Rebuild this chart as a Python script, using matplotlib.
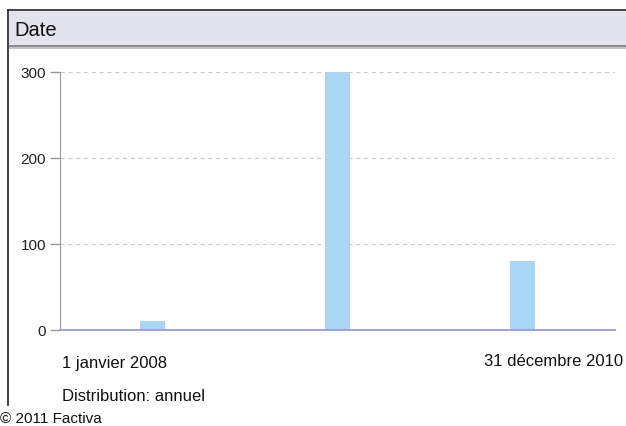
import matplotlib.pyplot as plt
from matplotlib.patches import Rectangle
from matplotlib.lines import Line2D

plt.rcParams['font.family'] = ['Liberation Sans', 'DejaVu Sans']

# data
years = ['2008', '2009', '2010']
counts = [10, 300, 80]
yticks = [0, 100, 200, 300]

W, H = 626, 427
fig = plt.figure(figsize=(W / 100, H / 100), dpi=100)

def fx(px):
    return px / W

def fy(py):
    return 1 - py / H

# frame: left border and header band
fig.add_artist(Line2D([fx(8), fx(8)], [fy(11), fy(413)], color='#222222', lw=1.2))
fig.add_artist(Line2D([fx(8), 1], [fy(11), fy(11)], color='#222222', lw=1.2))
fig.add_artist(Rectangle((fx(8.5), fy(46)), 1, fy(11.5) - fy(46),
                         facecolor='#e3e3ee', edgecolor='none'))
fig.add_artist(Rectangle((fx(8.5), fy(48)), 1, fy(46) - fy(48),
                         facecolor='#8e8e8e', edgecolor='none'))
fig.add_artist(Rectangle((fx(8.5), fy(50)), 1, fy(48) - fy(50),
                         facecolor='#c4c4c4', edgecolor='none'))
fig.text(fx(14), fy(30), 'Date', fontsize=14.5, va='center', ha='left', color='#111111')

ax = fig.add_axes([fx(60), fy(331), fx(615) - fx(60), fy(73) - fy(331)])
x = range(len(years))
ax.bar(x, counts, width=0.135, color='#aad6f5', zorder=3)
ax.set_xlim(-0.5, 2.5)
ax.set_ylim(0, 300)
ax.set_yticks(yticks)
ax.set_xticks([])
ax.tick_params(axis='y', length=7, width=1, color='#999999', labelsize=11, pad=3,
               labelcolor='#222222')
for s in ['top', 'right']:
    ax.spines[s].set_visible(False)
ax.spines['left'].set_color('#999999')
ax.spines['bottom'].set_color('#9c9ad8')
ax.spines['bottom'].set_linewidth(1.3)
ax.spines['bottom'].set_zorder(4)
ax.yaxis.grid(True, linestyle=(0, (4, 3)), color='#cccccc', lw=0.8)
ax.set_axisbelow(True)

fig.text(fx(62), fy(364), '1 janvier 2008', fontsize=12, va='center', ha='left', color='#111111')
fig.text(fx(623), fy(362), '31 décembre 2010', fontsize=12, va='center', ha='right', color='#111111')
fig.text(fx(62), fy(397), 'Distribution: annuel', fontsize=12, va='center', ha='left', color='#111111')
fig.text(fx(0.5), fy(419), '© 2011 Factiva', fontsize=11, va='center', ha='left', color='#111111',
         backgroundcolor='white')

fig.savefig('out.png', dpi=100, facecolor='white')
